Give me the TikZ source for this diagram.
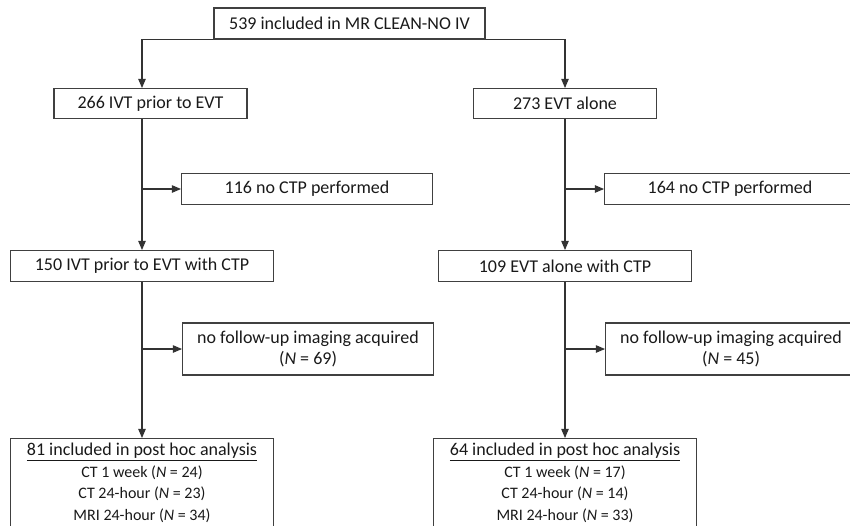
\documentclass[tikz,border=0pt]{standalone}
\usepackage{fontspec}
\setmainfont{Carlito}
\usetikzlibrary{arrows,positioning}

\newcommand\detailfont{\fontsize{16}{18.5}\selectfont}

\begin{document}
\begin{tikzpicture}[->,>=triangle 45,node distance=40pt,
    link/.style={draw=black!80,line width=1.1pt},
    every edge/.style={link},
    base box/.style={rectangle,draw=black!75,line width=1.1pt,inner sep=0pt,minimum height=31pt,
      font=\fontsize{18}{21.5}\selectfont,text=black!90},
    skip box/.style={base box,minimum width=251pt,align=center},
    final box/.style={base box,minimum width=263pt,minimum height=89pt,align=center}]

  \useasboundingbox (0,0) rectangle (850pt,-525pt);
  \clip (0,0) rectangle (850pt,-525pt);

  \node[base box,minimum width=271pt]  (top) at (349.5pt,-23.5pt) {539 included in MR CLEAN-NO IV};
  \coordinate (ivt) at (142pt,-39pt);
  \coordinate (evt) at (565pt,-39pt);

  \node[base box,minimum width=193pt,minimum height=30pt] (ivt1) [below=49pt of ivt,xshift=8.5pt] {266 IVT prior to EVT};
  \node[base box,minimum width=183pt,minimum height=30pt] (evt1) [below=49pt of evt] {273 EVT alone};

  \coordinate[below=150pt of ivt] (ivtb1);
  \coordinate[below=150pt of evt] (evtb1);
  \node[skip box] (ivtx1) [right=39pt of ivtb1] {116 no CTP performed};
  \node[skip box] (evtx1) [right=39pt of evtb1] {164 no CTP performed};

  \node[base box,minimum width=263pt] (ivt2) [below=211pt of ivt] {150 IVT prior to EVT with CTP};
  \node[base box,minimum width=253pt] (evt2) [below=211pt of evt] {109 EVT alone with CTP};

  \coordinate[below=310pt of ivt] (ivtb2);
  \coordinate[below=310pt of evt] (evtb2);
  \node[skip box,minimum height=52pt] (ivtx2) [right=40pt of ivtb2] {no follow-up imaging acquired\\(\textit{N} = 69)};
  \node[skip box,minimum height=52pt] (evtx2) [right=40pt of evtb2] {no follow-up imaging acquired\\(\textit{N} = 45)};

  \node[final box] (ivt3) [below=399pt of ivt] {\underline{81 included in post hoc analysis}\\
    \detailfont CT 1 week (\textit{N} = 24)\\ \detailfont CT 24-hour (\textit{N} = 23)\\ \detailfont MRI 24-hour (\textit{N} = 34)};
  \node[final box] (evt3) [below=399pt of evt] {\underline{64 included in post hoc analysis}\\
    \detailfont CT 1 week (\textit{N} = 17)\\ \detailfont CT 24-hour (\textit{N} = 14)\\ \detailfont MRI 24-hour (\textit{N} = 33)};

  \draw[link] (top.south west) -| (ivt1.north -| ivt);
  \draw[link] (top.south east) -| (evt1);

  \path (ivt1.south -| ivt) edge (ivt2)
        (ivt2) edge (ivt3)
        (evt1) edge (evt2)
        (evt2) edge (evt3)

        (ivtb1) edge (ivtx1)
        (evtb1) edge (evtx1)
        (ivtb2) edge (ivtx2)
        (evtb2) edge (evtx2);
\end{tikzpicture}
\end{document}
